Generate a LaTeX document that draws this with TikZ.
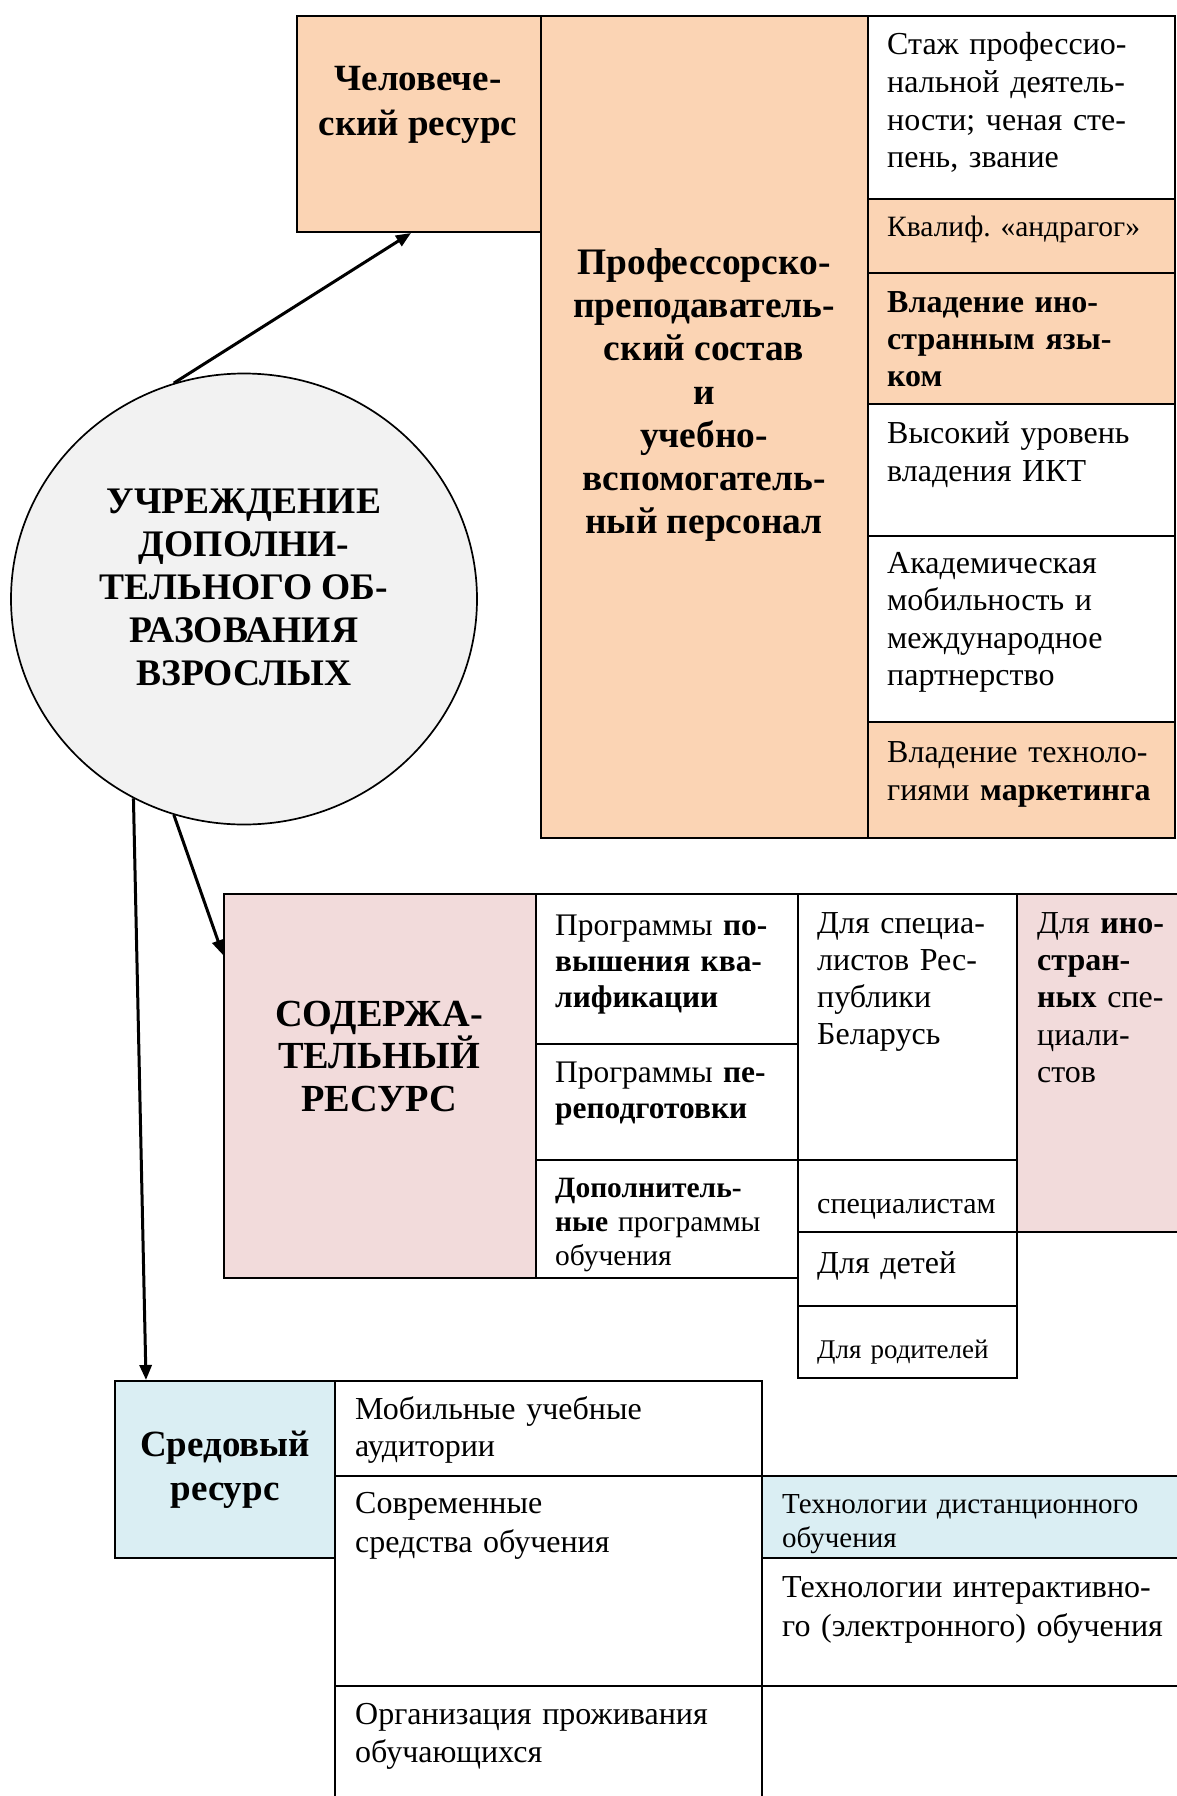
\documentclass[tikz,border=0pt]{standalone}
\usepackage{fontspec}
\setmainfont{Liberation Serif}
\frenchspacing
\usetikzlibrary{shapes.geometric}
\usetikzlibrary{arrows.meta}
\definecolor{peach}{HTML}{FBD4B4}
\definecolor{rose}{HTML}{F2DBDB}
\definecolor{sky}{HTML}{DAEEF3}
\definecolor{pale}{HTML}{F2F2F2}
\tikzset{
    cellw/.style = {rectangle, line width=2pt, draw=black, fill=white, anchor=north west, inner sep=0pt},
    cellp/.style = {cellw, fill=peach},
    cellr/.style = {cellw, fill=rose},
    cellb/.style = {cellw, fill=sky},
    uchr/.style = {ellipse, line width=1.7pt, draw=black, fill=pale, inner sep=0pt},
    head/.style = {align=center, inner sep=0pt, font=\bfseries\fontsize{37}{44.5}\selectfont},
    txt/.style = {anchor=base west, inner sep=0pt, align=left, text width=420pt, font=\fontsize{32}{37.8}\selectfont},
    txts/.style = {txt, font=\fontsize{29.5}{34}\selectfont},
    arr/.style = {-{Triangle[length=15pt,width=12pt]}, line width=3pt, black},
}
\begin{document}
\begin{tikzpicture}[x=1pt, y=-1pt]
\useasboundingbox (0, 0) rectangle (1177, 1796);
% human resource
\node[cellp, minimum width=244pt, minimum height=216pt] at (296, 15) (hum) {};
\node[head] at (418, 105) (hum-t) {Человече-\\ский ресурс};
\node[cellp, minimum width=327pt, minimum height=822pt] at (540, 15) (prof) {};
\node[head, font=\bfseries\fontsize{37.4}{43.2}\selectfont] at (704, 395) (prof-t) {Профессорско-\\преподаватель-\\ский состав\\и\\учебно-\\вспомогатель-\\ный персонал};
\node[cellw, minimum width=307pt, minimum height=183pt] at (867, 15) (stazh) {};
\node[cellp, minimum width=307pt, minimum height=74pt] at (867, 198) (kval) {};
\node[cellp, minimum width=307pt, minimum height=131pt] at (867, 272) (lang) {};
\node[cellw, minimum width=307pt, minimum height=132pt] at (867, 403) (ikt) {};
\node[cellw, minimum width=307pt, minimum height=186pt] at (867, 535) (mob) {};
\node[cellp, minimum width=307pt, minimum height=116pt] at (867, 721) (mark) {};
\node[txt] at (887, 54.5) (stazh-t) {Стаж профессио-\\нальной деятель-\\ности; ченая сте-\\пень, звание};
\node[txts] at (887, 236.5) (kval-t) {Квалиф. «андрагог»};
\node[txt, font=\bfseries\fontsize{32}{37.2}\selectfont] at (887, 312.5) (lang-t) {Владение ино-\\странным язы-\\ком};
\node[txt] at (887, 443.5) (ikt-t) {Высокий уровень\\владения ИКТ};
\node[txt, font=\fontsize{32}{37.4}\selectfont] at (887, 573.5) (mob-t) {Академическая\\мобильность и\\международное\\партнерство};
\node[txt] at (887, 762.5) (mark-t) {Владение техноло-\\гиями \textbf{маркетинга}};
% institution
\node[uchr, minimum width=466pt, minimum height=451pt] at (244, 599) (uc) {};
\node[head, font=\bfseries\fontsize{37.5}{43}\selectfont] at (244, 587) (uc-t) {УЧРЕЖДЕНИЕ\\ДОПОЛНИ-\\ТЕЛЬНОГО ОБ-\\РАЗОВАНИЯ\\ВЗРОСЛЫХ};
% content resource
\node[cellr, minimum width=312pt, minimum height=384pt] at (223, 893) (cont) {};
\node[head, font=\bfseries\fontsize{38.3}{42.5}\selectfont] at (379, 1056) (cont-t) {СОДЕРЖА-\\ТЕЛЬНЫЙ\\РЕСУРС};
\node[cellw, minimum width=262pt, minimum height=150pt] at (535, 893) (pk) {};
\node[cellw, minimum width=262pt, minimum height=116pt] at (535, 1043) (pp) {};
\node[cellw, minimum width=262pt, minimum height=118pt] at (535, 1159) (dop) {};
\node[cellw, minimum width=219pt, minimum height=266pt] at (797, 893) (rb) {};
\node[cellw, minimum width=219pt, minimum height=72pt] at (797, 1159) (spec) {};
\node[cellw, minimum width=219pt, minimum height=74pt] at (797, 1231) (det) {};
\node[cellw, minimum width=219pt, minimum height=72pt] at (797, 1305) (rod) {};
\node[cellr, minimum width=180pt, minimum height=338pt] at (1016, 893) (inostr) {};
\node[txt, font=\fontsize{31.4}{36}\selectfont] at (555, 935.5) (pk-t) {Программы \textbf{по-}\\\textbf{вышения ква-}\\\textbf{лификации}};
\node[txt, font=\fontsize{31.4}{36}\selectfont] at (555, 1082.5) (pp-t) {Программы \textbf{пе-}\\\textbf{реподготовки}};
\node[txts] at (555, 1197.5) (dop-t) {\textbf{Дополнитель-}\\\textbf{ные} программы\\обучения};
\node[txt, font=\fontsize{32}{37}\selectfont] at (817, 933.5) (rb-t) {Для специа-\\листов Рес-\\публики\\Беларусь};
\node[txts, font=\fontsize{30}{34}\selectfont] at (817, 1213.5) (spec-t) {специалистам};
\node[txt] at (817, 1273.5) (det-t) {Для детей};
\node[txts, font=\fontsize{27}{32}\selectfont] at (817, 1358.5) (rod-t) {Для родителей};
\node[txt, font=\fontsize{32}{37.2}\selectfont] at (1037, 933.5) (inostr-t) {Для \textbf{ино-}\\\textbf{стран-}\\\textbf{ных} спе-\\циали-\\стов};
% environment resource
\node[cellb, align=center, font=\bfseries\fontsize{37}{44.5}\selectfont, minimum width=220pt, minimum height=177pt] at (114, 1380) (env) {Средовый\\ресурс};
\node[cellw, minimum width=427pt, minimum height=95pt] at (334, 1380) (aud) {};
\node[cellw, minimum width=427pt, minimum height=210pt] at (334, 1475) (sredstva) {};
\node[cellw, minimum width=427pt, minimum height=130pt] at (334, 1685) (prozh) {};
\node[cellb, minimum width=435pt, minimum height=82pt] at (761, 1475) (dist) {};
\node[cellw, minimum width=435pt, minimum height=128pt] at (761, 1557) (inter) {};
\node[cellw, minimum width=435pt, minimum height=130pt] at (761, 1685) (rest) {};
\node[txt, font=\fontsize{32}{36.6}\selectfont] at (355, 1419.5) (aud-t) {Мобильные учебные\\аудитории};
\node[txt, font=\fontsize{32}{39}\selectfont] at (355, 1513.5) (sredstva-t) {Современные\\средства обучения};
\node[txt] at (355, 1724.5) (prozh-t) {Организация проживания\\обучающихся};
\node[txts, font=\fontsize{29}{34.3}\selectfont] at (782, 1513.5) (dist-t) {Технологии дистанционного\\обучения};
\node[txt, font=\fontsize{32}{39}\selectfont] at (782, 1597.5) (inter-t) {Технологии интерактивно-\\го (электронного) обучения};
%
\draw[arr] (uc.108) -- ([xshift=-8pt]hum.south);
\draw[arr] (uc.252) -- ([yshift=-62pt]cont.north west);
\draw[arr] (uc.241) -- ([xshift=32pt]env.north west);
\end{tikzpicture}
\end{document}
